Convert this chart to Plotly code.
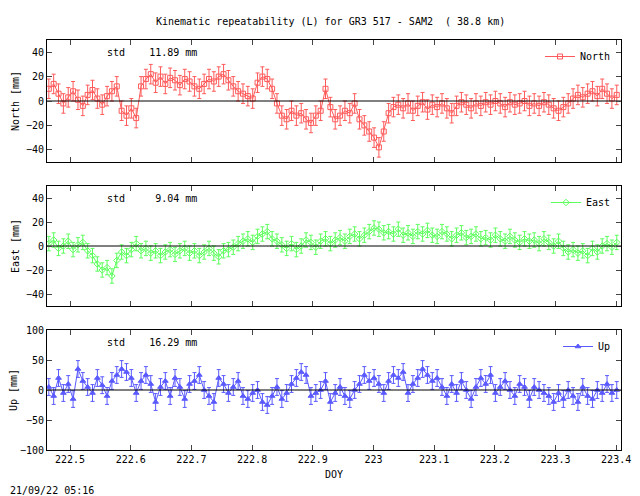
import numpy as np
import plotly.graph_objects as go

# epochs (DOY), regular sampling
doy = np.linspace(222.465, 223.401, 118)

north = [10, 14, 6, -2, 3, 8, 1, -4, 5, 9,
         2, -3, 4, 8, 12, -8, -12, -6, -14, 12,
         18, 22, 15, 20, 14, 19, 17, 13, 18, 16,
         12, 10, 14, 18, 16, 20, 22, 17, 12, 8,
         6, 4, 2, 15, 20, 18, 10, -2, -12, -15,
         -8, -12, -10, -15, -18, -12, -8, 10, -5, -15,
         -12, -8, -10, -2, -15, -20, -25, -30, -38, -25,
         -10, -5, -3, -6, -2, -8, -4, -1, -7, -3,
         -5, -2, -6, -10, -4, -1, -3, -6, -2, -4,
         -1, -3, 0, -2, -5, -1, -3, -2, 0, -4,
         -2, -4, -1, -3, -6, -8, -5, -2, 2, 5,
         3, 6, 8, 4, 10, 6, 2, 5]
east = [2, 5, -2, 0, 4, -3, 1, 3, -4, -8,
        -15, -20, -18, -25, -12, -5, -8, -3, 2, -4,
        -2, -6, -4, -8, -5, -3, -7, -4, -2, -6,
        -4, -8, -5, -2, -6, -9, -4, -3, -1, 2,
        4, 6, 3, 8, 10, 12, 6, 4, 1, -2,
        2, -3, 0, 5, 3, -1, 4, 6, 2, 5,
        7, 4, 8, 10, 6, 9, 12, 15, 14, 11,
        12, 10, 14, 9, 11, 8, 12, 10, 13, 9,
        8, 12, 10, 6, 9, 11, 7, 8, 10, 6,
        7, 5, 9, 6, 4, 8, 5, 3, 6, 4,
        5, 2, 6, 3, 0, 4, -2, -5, -3, -6,
        -4, -8, -2, -5, 0, 2, -1, 3]
up = [5, -10, 20, -5, 10, -15, 35, 15, 5, -5,
      20, 8, -10, 15, 25, 35, 30, 20, -5, 15,
      25, 10, -20, 5, 15, -10, 20, 5, -15, 10,
      15, 25, 0, -10, -20, 20, 10, -5, 5, 15,
      -10, -15, -5, 0, -20, -25, -10, 5, -15, -5,
      10, 20, 30, 25, -10, -5, 0, 15, -20, -5,
      5, -10, -15, 0, 10, 25, 15, 20, 10, -5,
      15, 25, 20, 30, -5, 10, 20, 35, 25, 15,
      20, 5, -10, 10, -5, 15, 0, -15, 5, 20,
      10, 25, -5, 5, 15, 0, -10, 10, 5, -15,
      5, 0, -5, -10, -20, -5, -15, 0, -10, -20,
      5, -10, -15, 0, -5, 10, -5, 0]
# typical scatter half-width per component [mm]
sigma = {"North": 8, "East": 6, "Up": 14}
std_text = {"North": "11.89", "East": " 9.04", "Up": "16.29"}

FONT = "DejaVu Sans Mono"
W, H, OFF = 640, 496, 8  # page body margin shifts the figure by OFF px


def py(screen_y):
    return 1 - (screen_y - OFF) / H


def px(screen_x):
    return (screen_x - OFF) / W


panels = [
    ("North", north, "#ff5a5a", "square-open", [-50, 50], [-40, -20, 0, 20, 40], (40, 162)),
    ("East", east, "#5cff5c", "diamond-open", [-50, 50], [-40, -20, 0, 20, 40], (186, 306)),
    ("Up", up, "#5a5aff", "triangle-up", [-100, 100], [-100, -50, 0, 50, 100], (330, 450)),
]

fig = go.Figure()
layout = dict(width=W, height=H, autosize=False, margin=dict(l=0, r=0, t=0, b=0),
              plot_bgcolor="white", paper_bgcolor="white",
              font=dict(family=FONT, size=10, color="black"), showlegend=True)
annotations = []
for k, (name, vals, col, sym, rng, ticks, (top, bot)) in enumerate(panels):
    n = k + 1
    xa = "x" if n == 1 else f"x{n}"
    ya = "y" if n == 1 else f"y{n}"
    lg = "legend" if n == 1 else f"legend{n}"
    fig.add_trace(go.Scatter(
        x=doy, y=vals, mode="lines+markers", name=name, xaxis=xa, yaxis=ya, legend=lg,
        line=dict(color=col, width=1),
        marker=dict(symbol=sym, size=5, color=col, line=dict(color=col, width=1)),
        error_y=dict(type="constant", value=sigma[name], color=col, thickness=1, width=2)))
    fig.add_trace(go.Scatter(x=[222.46, 223.41], y=[0, 0], mode="lines", xaxis=xa, yaxis=ya,
                             line=dict(color="black", width=1), showlegend=False, hoverinfo="skip"))
    axk = "xaxis" if n == 1 else f"xaxis{n}"
    ayk = "yaxis" if n == 1 else f"yaxis{n}"
    layout[axk] = dict(domain=[px(47), px(621)], range=[222.462, 223.408], anchor=ya,
                       tickvals=[222.5 + 0.1 * i for i in range(10)],
                       ticktext=["222.5", "222.6", "222.7", "222.8", "222.9", "223",
                                 "223.1", "223.2", "223.3", "223.4"],
                       showticklabels=(n == 3), ticks="inside", ticklen=5, mirror="ticks",
                       showline=True, linecolor="black", linewidth=1, showgrid=False, zeroline=False,
                       automargin=False,
                       title=dict(text="DOY" if n == 3 else "", standoff=6, font=dict(size=10)))
    layout[ayk] = dict(domain=[py(bot), py(top)], range=rng, anchor=xa, tickvals=ticks,
                       ticks="inside", ticklen=5,
                       mirror="ticks", showline=True, linecolor="black", linewidth=1,
                       showgrid=False, zeroline=False, automargin=False,
                       title=dict(text=f"{name} [mm]", standoff=4, font=dict(size=10)))
    layout[lg] = dict(x=px(616), y=py(top + 2), xanchor="right", yanchor="top",
                      bgcolor="rgba(0,0,0,0)", font=dict(family=FONT, size=10))
    annotations.append(dict(xref="paper", yref="paper", x=px(105), y=py(top + 12),
                            xanchor="left", yanchor="middle", showarrow=False,
                            text=f"std    {std_text[name]} mm".replace(" ", "&nbsp;")))

annotations.append(dict(xref="paper", yref="paper", x=px(330), y=py(22), xanchor="center",
                        yanchor="middle", showarrow=False,
                        text="Kinematic repeatability (L) for GR3 517 - SAM2  ( 38.8 km)".replace(" ", "&nbsp;")))
annotations.append(dict(xref="paper", yref="paper", x=0, y=py(490), xanchor="left",
                        yanchor="middle", showarrow=False, text="21/09/22 05:16"))
layout["annotations"] = annotations
fig.update_layout(**layout)
fig.write_html("out.html")
